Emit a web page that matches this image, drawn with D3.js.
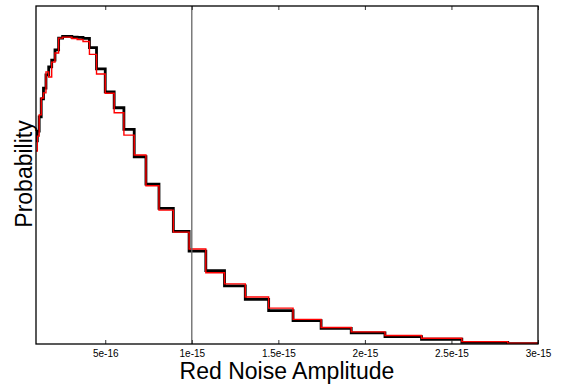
<!DOCTYPE html>
<html>
<head>
<meta charset="utf-8">
<script src="https://cdn.jsdelivr.net/npm/d3@7"></script>
<style>
body{margin:0;background:#fff;}
text{font-family:"Liberation Sans",Arial,Helvetica,sans-serif;}
</style>
</head>
<body>
<div id="chart-area"></div>
<script>
// bin edges (x 1e-16); log-spaced bins
let binEdges=[0.978,1.076,1.184,1.302,1.433,1.576,1.734,1.907,2.097,2.307,2.538,2.792,3.071,3.378,3.716,4.087,4.496,5.00,5.516,6.078,6.674,7.352,8.105,8.934,9.844,10.81,11.89,13.09,14.44,15.85,17.47,19.21,21.16,23.27,25.60,28.25,31.08];

// probability per bin (black = first chain, red = second chain)
let blackProb=[0.601,0.630,0.672,0.725,0.757,0.796,0.820,0.840,0.870,0.905,0.910,0.910,0.908,0.907,0.904,0.877,0.814,0.746,0.699,0.635,0.554,0.473,0.401,0.333,0.275,0.217,0.172,0.132,0.099,0.069,0.046,0.033,0.022,0.014,0.005,0.001];
let redProb=[0.571,0.615,0.678,0.728,0.743,0.805,0.790,0.834,0.861,0.905,0.908,0.908,0.904,0.901,0.895,0.857,0.799,0.742,0.684,0.618,0.559,0.468,0.396,0.331,0.281,0.211,0.178,0.139,0.106,0.073,0.049,0.036,0.025,0.017,0.007,0.002];

let tickVals=[5e-16,1e-15,1.5e-15,2e-15,2.5e-15,3e-15];
let tickLabels=["5e-16","1e-15","1.5e-15","2e-15","2.5e-15","3e-15"];
let markerValue=1e-15;

let margin={top:6,right:27,left:36,bottom:40};
let width=565-margin.left-margin.right;
let height=384-margin.top-margin.bottom;

let svg=d3.select("#chart-area").append('svg')
	.attr('width',565)
	.attr('height',384);

let g=svg.append('g')
	.attr("transform","translate("+margin.left+", "+margin.top+")");

//---------SCALES--------------
let x=d3.scaleLinear()
	.domain([1e-16,3e-15])
	.range([0,width]);

let y=d3.scaleLinear()
	.domain([0,1])
	.range([height,0]);

svg.append('defs').append('clipPath')
	.attr('id','plot-clip')
	.append('rect')
	.attr('width',width)
	.attr('height',height);

//---------HISTOGRAMS-----------
function stepPoints(probs){
	let pts=probs.map((p,i)=>[binEdges[i]*1e-16,p]);
	pts.push([binEdges[binEdges.length-1]*1e-16,probs[probs.length-1]]);
	return pts;
}

let stepLine=d3.line()
	.x(d=>x(d[0]))
	.y(d=>y(d[1]))
	.curve(d3.curveStepAfter);

let plot=g.append('g').attr('clip-path','url(#plot-clip)');

plot.append('path')
	.attr('d',stepLine(stepPoints(blackProb)))
	.attr('fill','none')
	.attr('stroke','#000')
	.attr('stroke-width',2.8);

plot.append('path')
	.attr('d',stepLine(stepPoints(redProb)))
	.attr('fill','none')
	.attr('stroke','#ff0000')
	.attr('stroke-width',1.4);

// marker line
g.append('line')
	.attr('x1',x(markerValue)).attr('x2',x(markerValue))
	.attr('y1',0).attr('y2',height)
	.attr('stroke','#666')
	.attr('stroke-width',1.3);

//-------AXES------------------
let xAxis=d3.axisBottom(x)
	.tickValues(tickVals)
	.tickSize(-4)
	.tickPadding(6)
	.tickFormat((d,i)=>tickLabels[i]);

let xAxisGroup=g.append('g')
	.attr('class','x-axis')
	.attr("transform","translate(0, "+height+")")
	.call(xAxis);
xAxisGroup.select('.domain').remove();
xAxisGroup.selectAll('line').attr('stroke','#333');
xAxisGroup.selectAll('text')
	.attr('font-size','10px')
	.attr('fill','#000')
	.style('font-family','"Liberation Sans",Arial,sans-serif');

let topAxis=d3.axisTop(x)
	.tickValues(tickVals)
	.tickSize(-4)
	.tickFormat('');
let topGroup=g.append('g').call(topAxis);
topGroup.select('.domain').remove();
topGroup.selectAll('line').attr('stroke','#333');

// frame
g.append('rect')
	.attr('width',width)
	.attr('height',height)
	.attr('fill','none')
	.attr('stroke','#000')
	.attr('stroke-width',1.3);

//------LABELS----------------
g.append('text')
	.attr('x',width/2)
	.attr('y',height+35)
	.attr('text-anchor','middle')
	.attr('font-size','23px')
	.text('Red Noise Amplitude');

svg.append('text')
	.attr('transform','translate(32,174) rotate(-90)')
	.attr('text-anchor','middle')
	.attr('font-size','23px')
	.text('Probability');
</script>
</body>
</html>
